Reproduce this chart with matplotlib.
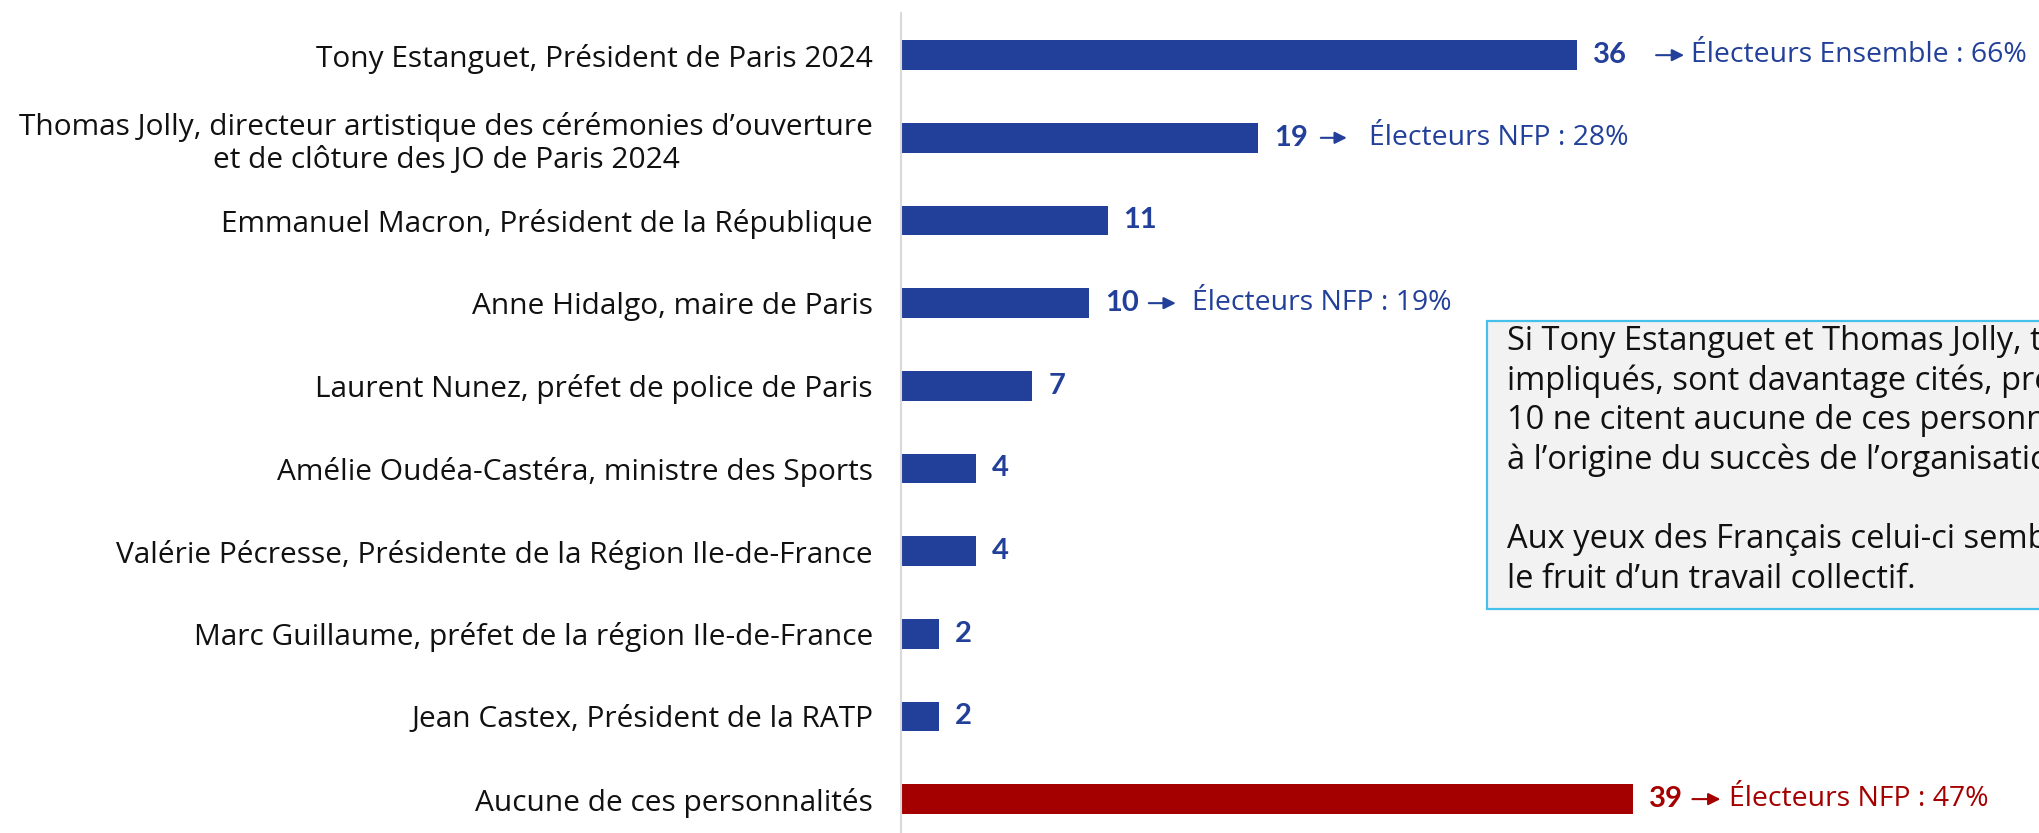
"""Bar chart: personnalités citées comme à l'origine du succès de Paris 2024."""

import matplotlib

matplotlib.use("Agg")
import matplotlib.pyplot as plt
from matplotlib.patches import Rectangle
from matplotlib.transforms import offset_copy

# ---- Data ---------------------------------------------------------------
labels = [
    "Tony Estanguet, Président de Paris 2024",
    "Thomas Jolly, directeur artistique des cérémonies d’ouverture\net de clôture des JO de Paris 2024",
    "Emmanuel Macron, Président de la République",
    "Anne Hidalgo, maire de Paris",
    "Laurent Nunez, préfet de police de Paris",
    "Amélie Oudéa-Castéra, ministre des Sports",
    "Valérie Pécresse, Présidente de la Région Ile-de-France",
    "Marc Guillaume, préfet de la région Ile-de-France",
    "Jean Castex, Président de la RATP",
    "Aucune de ces personnalités",
]
values = [36, 19, 11, 10, 7, 4, 4, 2, 2, 39]

# sub-group callouts: row index -> text
callout_rows = [0, 1, 3, 9]
callout_texts = [
    "Électeurs Ensemble : 66%",
    "Électeurs NFP : 28%",
    "Électeurs NFP : 19%",
    "Électeurs NFP : 47%",
]

box_lines = [
    "Si Tony Estanguet et Thomas Jolly, très",
    "impliqués, sont davantage cités, près de 4 Français sur",
    "10 ne citent aucune de ces personnalités comme étant",
    "à l’origine du succès de l’organisation des JO.",
    "",
    "Aux yeux des Français celui-ci semble plutôt être",
    "le fruit d’un travail collectif.",
]

# ---- Style ----------------------------------------------------------------
BLUE = "#22409a"
RED = "#a50000"
W, H, DPI = 2039, 833, 100
PT = 72 / DPI  # points per pixel

plt.rcParams["font.family"] = ["Open Sans", "DejaVu Sans"]

fig = plt.figure(figsize=(W / DPI, H / DPI), dpi=DPI)
ax_left, ax_top = 901, 13
ax = fig.add_axes([ax_left / W, 0, 1 - ax_left / W, 1 - ax_top / H])

n = len(values)
colors = [BLUE] * (n - 1) + [RED]
ypos = list(range(n))
ax.barh(ypos, values, height=0.36, color=colors, zorder=2)

ax.set_xlim(0, (W - ax_left) / 18.78)
ax.set_ylim(n - 1 + 0.41, -0.51)
ax.set_xticks([])
ax.set_yticks(ypos)
ax.set_yticklabels(labels, fontsize=21.5, color="#111111", ha="right",
                   multialignment="center", linespacing=1.2)
ax.tick_params(axis="y", length=0, pad=28 * PT)
for side in ("top", "right", "bottom"):
    ax.spines[side].set_visible(False)
ax.spines["left"].set_color("#d9d9d9")
ax.spines["left"].set_linewidth(1.5)

# value labels
for y, v, c in zip(ypos, values, colors):
    ax.annotate(str(v), xy=(v, y), xytext=(16 * PT, 0),
                textcoords="offset points", va="center", ha="left",
                fontsize=21, fontweight="bold", color=c, family=["Lato", "DejaVu Sans"])

# callouts: arrow start / end and text offsets from the bar end, in pixels
arrow_dx = [(79, 107), (63, 89), (60, 87), (59, 87)]
text_dx = [114, 111, 103, 96]
for row, txt, (a0, a1), tdx in zip(callout_rows, callout_texts, arrow_dx, text_dx):
    v = values[row]
    c = colors[row]
    tail = offset_copy(ax.transData, fig=fig, x=a0, y=0, units="dots")
    head = offset_copy(ax.transData, fig=fig, x=a1, y=0, units="dots")
    ax.annotate("", xy=(v, row), xycoords=head, xytext=(v, row), textcoords=tail,
                arrowprops=dict(arrowstyle="-|>", color=c, lw=1.5,
                                mutation_scale=18, shrinkA=0, shrinkB=0))
    ax.annotate(txt, xy=(v, row), xytext=(tdx * PT, 0),
                textcoords="offset points", va="center", ha="left",
                fontsize=20.4, color=c)

# ---- Comment box (runs off the right edge, as in the source) -------------
box_l, box_t, box_b = 1487, 321, 609
fig.add_artist(Rectangle((box_l / W, 1 - box_b / H), 1.2, (box_b - box_t) / H,
                         transform=fig.transFigure, facecolor="#f2f2f2",
                         edgecolor="#45c0ea", lw=1.6, zorder=3))
for k, line in enumerate(box_lines):
    fig.text(1507 / W, 1 - (350 + 39.6 * k) / H, line, fontsize=23.5,
             color="#111111", va="baseline", ha="left", zorder=4)

fig.savefig("out.png", dpi=DPI)
